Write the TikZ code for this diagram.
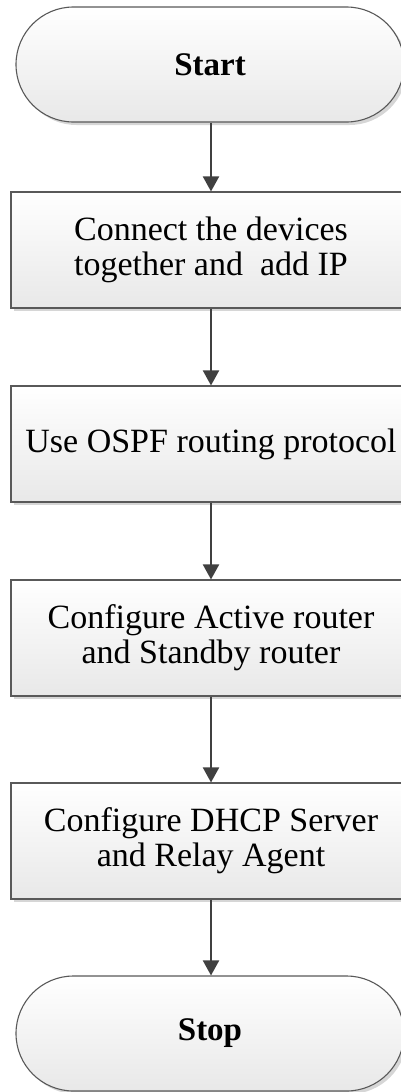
\documentclass[tikz,border=0pt]{standalone}
\usepackage{fontspec}
\setmainfont{Liberation Serif}
\usetikzlibrary{shapes.misc,shadows,arrows.meta}
\begin{document}
\begin{tikzpicture}[x=1pt,y=-1pt,
  flowshape/.style={draw=black!65, line width=1.1pt, top color=white, bottom color=black!9,
    drop shadow={shadow xshift=3pt, shadow yshift=-3pt, fill=black!16, opacity=1},
    align=center, inner sep=0pt},
  stepbox/.style={flowshape, rectangle, minimum width=400pt, minimum height=116pt,
    font=\fontsize{34}{35}\selectfont},
  terminal/.style={flowshape, rounded rectangle, minimum width=388pt, minimum height=115pt,
    font=\bfseries\fontsize{33}{35}\selectfont},
  flowarrow/.style={draw=black!75, line width=2pt, -{Triangle[width=16pt,length=15pt]}}]
  \useasboundingbox (0,0) rectangle (401,1092);
  \clip (0,0) rectangle (401,1092);

  % terminals and process steps
  \node[terminal] (start) at (210,64.5) {Start};
  \node[stepbox] (connect) at (211,250) {Connect the devices\\together and\ \ add IP};
  \node[stepbox] (ospf) at (211,444) {Use OSPF routing protocol};
  \node[stepbox] (standby) at (211,638) {Configure Active router\\and Standby router};
  \node[stepbox] (dhcp) at (211,841) {Configure DHCP Server\\and Relay Agent};
  \node[terminal] (stop) at (210,1033.5) {Stop};

  % flow arrows
  \draw[flowarrow] (start.south -| connect.north) -- (connect.north);
  \draw[flowarrow] (connect.south) -- (ospf.north);
  \draw[flowarrow] (ospf.south) -- (standby.north);
  \draw[flowarrow] (standby.south) -- (dhcp.north);
  \draw[flowarrow] (dhcp.south) -- (stop.north -| dhcp.south);
\end{tikzpicture}
\end{document}
